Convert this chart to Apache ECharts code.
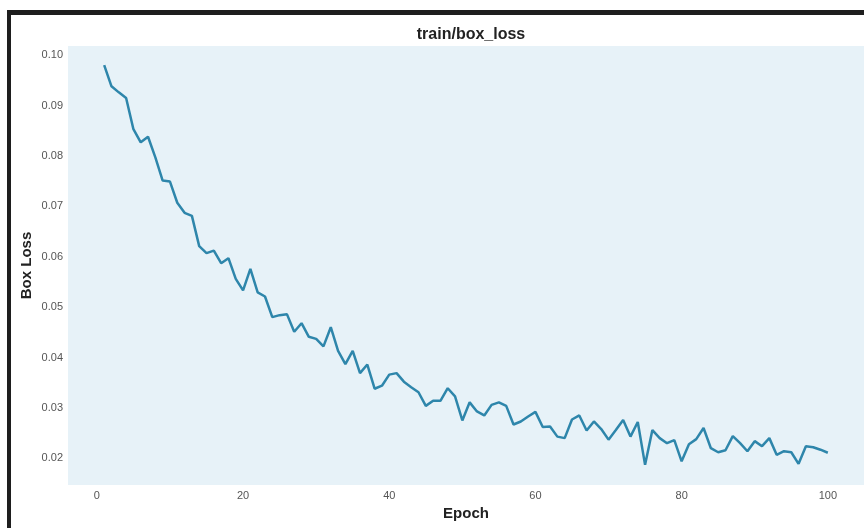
<!DOCTYPE html>
<html>
<head>
<meta charset="utf-8">
<script src="https://cdn.jsdelivr.net/npm/echarts@6/dist/echarts.min.js"></script>
<style>
    html, body { margin: 0; padding: 0; background: #fff; }
    #chartmain { width: 864px; height: 528px; }
</style>
</head>
<body>
<div id="chartmain"></div>
<script>
// epochs 1..100
var epochs = [];
for (let i = 1; i <= 100; i++) {
    epochs.push(i);
}
// box loss
var boxLoss = [
    0.0980, 0.0938, 0.0926, 0.0915, 0.0853, 0.0827, 0.0838, 0.0797, 0.0751, 0.0749,
    0.0707, 0.0687, 0.0681, 0.0621, 0.0607, 0.0612, 0.0587, 0.0597, 0.0556, 0.0533,
    0.0576, 0.0529, 0.0521, 0.0480, 0.0484, 0.0486, 0.0451, 0.0468, 0.0441, 0.0437,
    0.0422, 0.0460, 0.0413, 0.0387, 0.0413, 0.0369, 0.0386, 0.0338, 0.0344, 0.0366,
    0.0369, 0.0352, 0.0341, 0.0331, 0.0304, 0.0314, 0.0314, 0.0339, 0.0323, 0.0275,
    0.0311, 0.0293, 0.0285, 0.0306, 0.0311, 0.0304, 0.0267, 0.0273, 0.0283, 0.0292,
    0.0262, 0.0263, 0.0243, 0.0240, 0.0277, 0.0285, 0.0255, 0.0273, 0.0258, 0.0237,
    0.0256, 0.0276, 0.0243, 0.0272, 0.0187, 0.0256, 0.0240, 0.0230, 0.0236, 0.0194,
    0.0228, 0.0238, 0.0260, 0.0220, 0.0212, 0.0216, 0.0244, 0.0230, 0.0214, 0.0234,
    0.0224, 0.0240, 0.0207, 0.0214, 0.0212, 0.0189, 0.0224, 0.0222, 0.0217, 0.0211
];
var xTicks = [0, 20, 40, 60, 80, 100];
var yTicks = [0.02, 0.03, 0.04, 0.05, 0.06, 0.07, 0.08, 0.09, 0.10];

var lineData = [];
for (let i = 0; i < epochs.length; i++) {
    lineData.push([epochs[i], boxLoss[i]]);
}

var myChart = echarts.init(document.getElementById('chartmain'));
var option = {
    backgroundColor: '#ffffff',
    animation: false,
    textStyle: { fontFamily: 'Liberation Sans, Arial, sans-serif' },
    title: {
        text: 'train/box_loss',
        left: 466,
        textAlign: 'center',
        top: 22,
        textStyle: { fontSize: 16, fontWeight: 'bold', color: '#222' }
    },
    grid: {
        left: 68,
        right: 0,
        top: 46,
        bottom: 43,
        show: true,
        backgroundColor: '#e7f2f8',
        borderWidth: 0
    },
    xAxis: {
        type: 'value',
        min: -3.95,
        max: 104.95,
        name: 'Epoch',
        nameLocation: 'middle',
        nameGap: 21,
        nameMoveOverlap: false,
        nameTextStyle: { fontSize: 15, fontWeight: 'bold', color: '#222' },
        axisLine: { show: false },
        axisTick: { show: false },
        splitLine: { show: false },
        axisLabel: {
            customValues: xTicks,
            color: '#555',
            fontSize: 11,
            margin: 5
        }
    },
    yAxis: {
        type: 'value',
        min: 0.0147,
        max: 0.1018,
        name: 'Box Loss',
        nameLocation: 'middle',
        nameGap: 34,
        nameMoveOverlap: false,
        nameTextStyle: { fontSize: 15, fontWeight: 'bold', color: '#222' },
        axisLine: { show: false },
        axisTick: { show: false },
        splitLine: { show: false },
        axisLabel: {
            customValues: yTicks,
            color: '#555',
            fontSize: 11,
            margin: 5,
            formatter: function (value) {
                return value.toFixed(2);
            }
        }
    },
    graphic: [
        // page frame seen in the screenshot
        { type: 'rect', shape: { x: 7, y: 10, width: 857, height: 5 }, style: { fill: '#1e1e1e' }, z: 100 },
        { type: 'rect', shape: { x: 7, y: 10, width: 4, height: 518 }, style: { fill: '#1e1e1e' }, z: 100 }
    ],
    series: [{
        type: 'line',
        data: lineData,
        showSymbol: false,
        lineStyle: { color: '#2e86ab', width: 2.5 },
        itemStyle: { color: '#2e86ab' }
    }]
};
myChart.setOption(option);
</script>
</body>
</html>
